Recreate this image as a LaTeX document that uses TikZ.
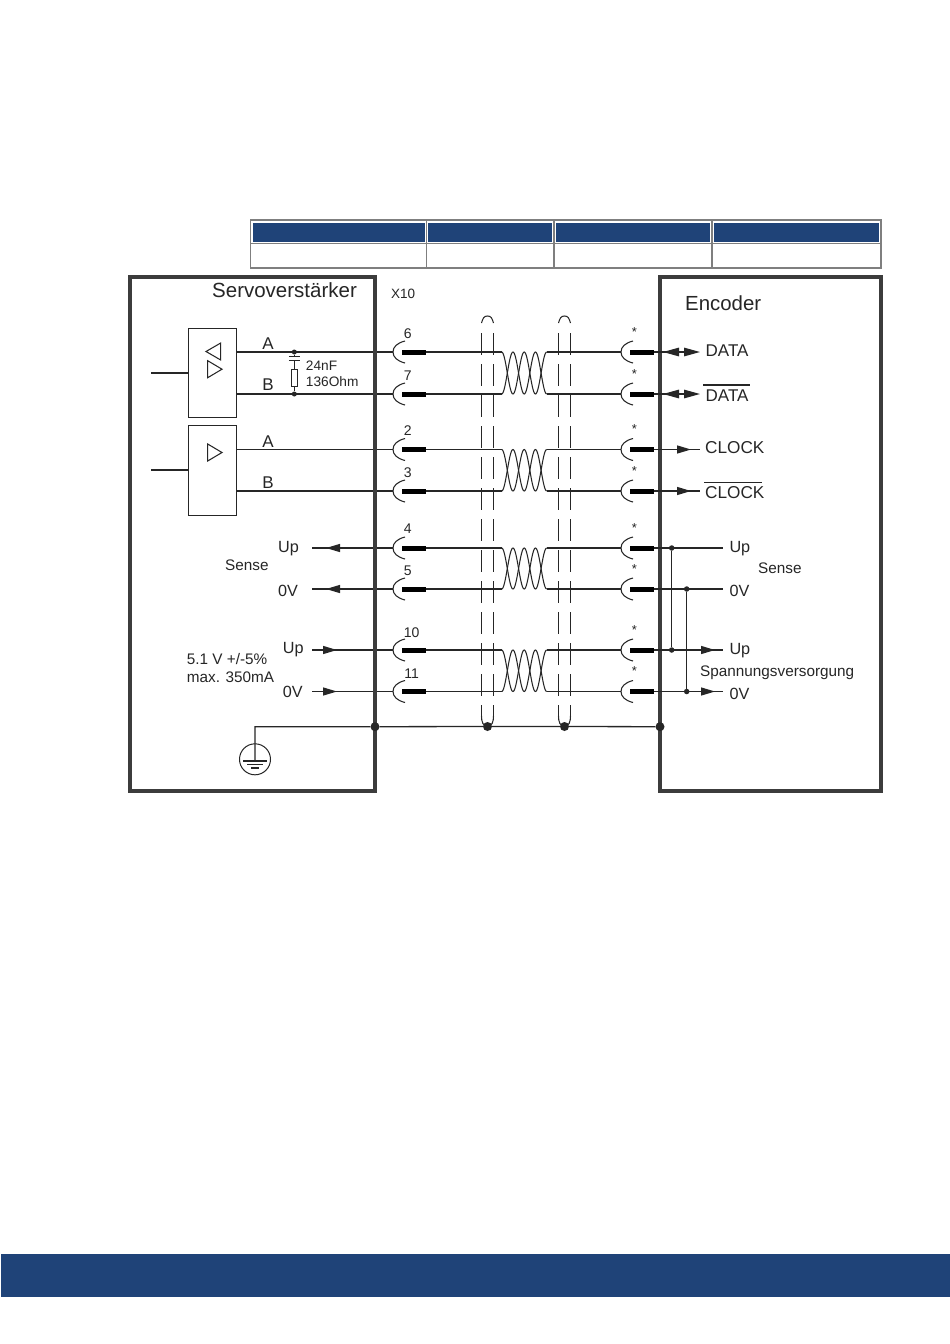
\documentclass[tikz,border=0pt]{standalone}
\usepackage{fontspec}
\setmainfont{Liberation Sans}
\usetikzlibrary{arrows.meta}
\definecolor{navy}{HTML}{1F4378}
\definecolor{ink}{HTML}{262626}
\definecolor{rulegray}{HTML}{7F7F7F}
\newcommand{\fs}[1]{\fontsize{#1}{#1}\selectfont}
\tikzset{
  wire/.style={draw=ink,line width=1.3pt},
  thinwire/.style={draw=ink,line width=1.05pt},
  frame/.style={draw=ink!90,line width=3.6pt},
  tablerule/.style={draw=rulegray,line width=1.4pt},
  head/.style={fill=navy,draw=none},
  pinbar/.style={draw=black,line width=5pt},
  shield/.style={draw=ink,line width=1.2pt,dash pattern=on 22pt off 9pt},
  lbl/.style={anchor=base west,inner sep=0pt,text=ink},
  lblc/.style={anchor=base,inner sep=0pt,text=ink},
  dot/.style={circle,fill=ink,inner sep=0pt,minimum size=#1},
  tip/.style={-{Triangle[length=14pt,width=8pt]}},
  tipb/.style={-{Triangle[length=16pt,width=8.5pt]}},
}
% socket: arc opening to the right at x=#1,y=#2, then bar
\newcommand{\socket}[2]{%
  \draw[thinwire] ({#1+12},{#2-11}) .. controls ({#1+4},{#2-9}) and (#1,{#2-5}) .. (#1,#2)
     .. controls (#1,{#2+5}) and ({#1+4},{#2+9}) .. ({#1+12},{#2+11});
  \draw[pinbar] ({#1+9},#2) -- ({#1+32.5},#2);}
% twisted pair between rows #1 and #2
\newcommand{\twist}[2]{%
  \pgfmathsetmacro{\midy}{(#1+#2)/2}\pgfmathsetmacro{\ampy}{(#2-#1)/2}
  \draw[thinwire] plot[smooth,domain=0:45,samples=73] ({501.7+\x},{\midy-\ampy*cos(16*\x)});
  \draw[thinwire] plot[smooth,domain=0:45,samples=73] ({501.7+\x},{\midy+\ampy*cos(16*\x)});}
\begin{document}
\begin{tikzpicture}[x=1pt,y=-1pt]
\useasboundingbox (0,0) rectangle (950,1344);
\fill[white] (0,0) rectangle (950,1344);
% bottom band
\fill[navy] (1,1254) rectangle (950,1297);
% table
\fill[head] (253,223) rectangle (425,242);
\fill[head] (428,223) rectangle (552,242);
\fill[head] (556,223) rectangle (710,242);
\fill[head] (714,223) rectangle (879,242);
\draw[tablerule] (250.5,220) rectangle (881,268);
\draw[tablerule] (250.5,243.5) -- (881,243.5);
\foreach \x in {426.5,554,712} \draw[tablerule] (\x,220) -- (\x,268);

% row coordinates
\foreach \n/\y in {a/352,b/394,c/449.5,d/491,e/548,f/589,g/650,h/691.5}{
  \coordinate (sl\n) at (393,\y);
  \coordinate (ol\n) at (425.5,\y);
  \coordinate (sr\n) at (621,\y);
  \coordinate (ob\n) at (653.5,\y);
  \coordinate (tl\n) at (501.7,\y);
  \coordinate (tr\n) at (546.7,\y);
}
\coordinate (bufAa) at (236,352); \coordinate (bufAb) at (236,394);
\coordinate (bufBc) at (236,449.5); \coordinate (bufBd) at (236,491);

% buffers
\node[draw=ink,line width=1pt,minimum width=47.7pt,minimum height=89pt,inner sep=0pt] (buf1) at (212.2,372.5) {};
\node[draw=ink,line width=1pt,minimum width=47.7pt,minimum height=90pt,inner sep=0pt] (buf2) at (212.2,470) {};
\coordinate (in1) at (151,373); \coordinate (in2) at (151,470);
\draw[wire] (in1) -- (in1 -| buf1.west);
\draw[wire] (in2) -- (in2 -| buf2.west);
\draw[thinwire] (206,351.5) -- (220.7,343) -- (220.7,360) -- cycle;
\draw[thinwire] (207.7,360.7) -- (222,369.2) -- (207.7,377.7) -- cycle;
\draw[thinwire] (207.7,444) -- (222,452.5) -- (207.7,461) -- cycle;

% wires left
\draw[wire] (bufAa) -- (sla);
\draw[wire] (bufAb) -- (slb);
\draw[wire] (bufBc) -- (slc);
\draw[wire] (bufBd) -- (sld);
\coordinate (ue) at (312,548); \coordinate (uf) at (312,589);
\coordinate (ug) at (312,650); \coordinate (uh) at (312,691.5);
\draw[wire] (ue) -- (sle);
\draw[wire] (uf) -- (slf);
\draw[wire] (ug) -- (slg);
\draw[wire] (uh) -- (slh);
\draw[wire,tip] (340,548) -- (326,548);
\draw[wire,tip] (340,589) -- (326,589);
\draw[wire,tip] (322,650) -- (337,650);
\draw[wire,tip] (322,691.5) -- (337,691.5);

% RC
\node[dot=5pt] (rca) at (294.3,352) {};
\node[dot=5pt] (rcb) at (294.3,394) {};
\node[draw=ink,line width=0.9pt,minimum width=6pt,minimum height=17.5pt,inner sep=0pt] (res) at (294.3,378) {};
\coordinate (c1) at (294.3,356.7); \coordinate (c2) at (294.3,360.7);
\draw[thinwire] (rca) -- (c1);
\draw[thinwire] (c2) -- (res.north);
\draw[thinwire] (res.south) -- (rcb);
\draw[thinwire] (288.8,356.7) -- (300,356.7);
\draw[thinwire] (288.8,360.7) -- (300,360.7);

% pair wires
\foreach \n in {a,b,c,d,e,f,g,h}{
  \draw[wire] (ol\n) -- (tl\n);
  \draw[wire] (tr\n) -- (sr\n);
}
\foreach \y in {352,394,449.5,491,548,589,650,691.5}{
  \socket{393}{\y}
  \socket{621}{\y}
}
\twist{352}{394}
\twist{449.5}{491}
\twist{548}{589}
\twist{650}{691.5}

% shields
\foreach \x in {481.5,493.5,558.5,570.5}{
  \draw[shield] (\x,333) -- (\x,720);
}
\draw[thinwire] (481.5,323) .. controls (483,318) and (484,316) .. (487.5,316) .. controls (491,316) and (492,318) .. (493.5,323);
\draw[thinwire] (558.5,323) .. controls (560,318) and (561,316) .. (564.5,316) .. controls (568,316) and (569,318) .. (570.5,323);
\node[dot=9pt] (sh1) at (487.5,726.5) {};
\node[dot=9pt] (sh2) at (564.5,726.5) {};
\draw[thinwire] (481.5,716) .. controls (481.5,722) and (483,726) .. (sh1.center) .. controls (492,726) and (493.5,722) .. (493.5,716);
\draw[thinwire] (558.5,716) .. controls (558.5,722) and (560,726) .. (sh2.center) .. controls (569,726) and (570.5,722) .. (570.5,716);

% frames
\draw[frame] (130,277) rectangle (375,791);
\draw[frame] (660,277) rectangle (881,791);

% ground bus
\node[dot=9pt] (gl) at (375,726.7) {};
\node[dot=9pt] (gr) at (660,726.7) {};
\node[draw=ink,circle,line width=1pt,minimum size=31pt,inner sep=0pt] (pe) at (255,759.3) {};
\coordinate (pet) at (255,761);
\coordinate (gc) at (255,726.7);
\draw[wire] (pet) -- (gc) -- (gl) -- (sh1) -- (sh2) -- (gr);
\draw[thinwire] (243,761) -- (267,761);
\draw[thinwire] (247,764.5) -- (263,764.5);
\draw[thinwire] (251,768) -- (259,768);

% right side wires
\foreach \n/\y/\e in {a/352/700,b/394/700,c/449.5/700,d/491/700,e/548/723,f/589/723,g/650/723,h/691.5/723}{
  \coordinate (ex\n) at (\e,\y);
}
\draw[wire,tipb] (oba) -- (exa);
\draw[wire,tipb] (obb) -- (exb);
\draw[wire,tipb] (680,352) -- (663,352);
\draw[wire,tipb] (680,394) -- (663,394);
\draw[wire] (obc) -- (exc);
\draw[wire] (obd) -- (exd);
\draw[wire,tip] (665,449.5) -- (691,449.5);
\draw[wire,tip] (665,491) -- (691,491);
\draw[wire] (obe) -- (exe);
\draw[wire] (obf) -- (exf);
\draw[wire] (obg) -- (exg);
\draw[wire] (obh) -- (exh);
\draw[wire,tip] (690,650) -- (715,650);
\draw[wire,tip] (690,691.5) -- (715,691.5);
\node[dot=5.5pt] (j1) at (671.7,548) {};
\node[dot=5.5pt] (j2) at (671.7,650) {};
\node[dot=5.5pt] (j3) at (686.7,589) {};
\node[dot=5.5pt] (j4) at (686.7,691.5) {};
\draw[wire] (j1) -- (j2);
\draw[wire] (j3) -- (j4);

% titles
\node[lbl,font=\fs{20.5}] (t1) at (212,297) {Servoverstärker};
\node[lbl,font=\fs{20.4}] (t2) at (685,310) {Encoder};
\node[lbl,font=\fs{13.5}] (x10) at (391,298) {X10};
% A/B
\foreach \nm/\t/\y in {la/A/349,lb/B/390,lc/A/447,ld/B/488}{
  \node[lblc,font=\fs{17}] (\nm) at (268,\y) {\t};
}
\node[lbl,font=\fs{13.7}] (rc1) at (305.7,370) {24nF};
\node[lbl,font=\fs{13.7}] (rc2) at (305.7,386) {136Ohm};
% pin numbers
\foreach \nm/\t/\x/\y in {p6/6/407.7/338,p7/7/407.7/380,p2/2/407.7/435,p3/3/407.7/477,p4/4/407.7/533,p5/5/407.7/575,p10/10/411.7/637,p11/11/411.7/678.5}{
  \node[lblc,font=\fs{14}] (\nm) at (\x,\y) {\t};
}
% stars
\foreach \nm/\y in {s1/336,s2/378,s3/433.5,s4/475,s5/532,s6/573,s7/634,s8/675.5}{
  \node[lblc,font=\fs{13}] (\nm) at (634.3,\y) {*};
}
% encoder signals
\node[lbl,font=\fs{17}] (sa) at (705.5,356) {DATA};
\node[lbl,font=\fs{17}] (sb) at (705.5,401) {DATA};
\node[lbl,font=\fs{17.2}] (sc) at (705,453) {CLOCK};
\node[lbl,font=\fs{17.2}] (sd) at (705,498) {CLOCK};
\draw[wire] (703,385) -- (750,385);
\draw[wire] (704,482.7) -- (762,482.7);
% voltages
\foreach \nm/\t/\x/\y in {v1/Up/278/552,v2/0V/278/596,v3/Up/282.7/653,v4/0V/282.7/697.5,v5/Up/729.3/552.5,v6/0V/729.3/596.5,v7/Up/729.3/654.5,v8/0V/729.3/699.5}{
  \node[lbl,font=\fs{16.2}] (\nm) at (\x,\y) {\t};
}
\node[lbl,font=\fs{15.3}] (se1) at (225,570.5) {Sense};
\node[lbl,font=\fs{15.3}] (se2) at (758,573.5) {Sense};
\node[lbl,font=\fs{15.3}] (sp) at (700,676.5) {Spannungsversorgung};
\node[lbl,font=\fs{15.3}] (m1) at (186.7,664.5) {5.1 V +/-5\%};
\node[lbl,font=\fs{15.3}] (m2) at (186.7,682.5) {max. 350mA};
\end{tikzpicture}
\end{document}
